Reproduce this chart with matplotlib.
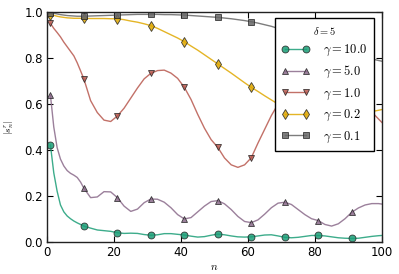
import matplotlib
matplotlib.use("Agg")
import matplotlib.pyplot as plt

plt.rcParams['mathtext.fontset'] = 'cm'

n = [1, 2, 3, 4, 5, 6, 7, 8, 9, 10, 11, 13, 15, 17, 19, 21, 23, 25, 27, 29, 31, 33, 35, 37, 39,
     41, 43, 45, 47, 49, 51, 53, 55, 57, 59, 61, 63, 65, 67, 69, 71, 73, 75, 77, 79,
     81, 83, 85, 87, 89, 91, 93, 95, 97, 99, 100]

g10 = [0.421, 0.30, 0.22, 0.16, 0.13, 0.112, 0.10, 0.09, 0.082, 0.075, 0.068, 0.059, 0.051, 0.048,
       0.045, 0.039, 0.036, 0.037, 0.036, 0.031, 0.028, 0.030, 0.035, 0.035, 0.032, 0.029, 0.024,
       0.020, 0.022, 0.028, 0.033, 0.030, 0.025, 0.021, 0.020, 0.021, 0.025, 0.029, 0.030, 0.025,
       0.019, 0.017, 0.019, 0.023, 0.027, 0.027, 0.025, 0.021, 0.017, 0.015, 0.014, 0.015, 0.019,
       0.023, 0.026, 0.027]

g5 = [0.639, 0.50, 0.41, 0.36, 0.33, 0.31, 0.298, 0.29, 0.28, 0.26, 0.233, 0.192, 0.195, 0.218,
      0.217, 0.192, 0.155, 0.132, 0.142, 0.17, 0.186, 0.185, 0.172, 0.148, 0.118, 0.099, 0.105,
      0.13, 0.155, 0.175, 0.179, 0.165, 0.14, 0.11, 0.088, 0.083, 0.095, 0.12, 0.148, 0.168, 0.172,
      0.162, 0.14, 0.118, 0.10, 0.092, 0.075, 0.068, 0.078, 0.10, 0.128, 0.147, 0.16, 0.166, 0.166,
      0.164]

g1 = [0.952, 0.93, 0.912, 0.893, 0.87, 0.85, 0.83, 0.81, 0.78, 0.745, 0.709, 0.615, 0.563, 0.53,
      0.524, 0.548, 0.582, 0.626, 0.67, 0.71, 0.734, 0.746, 0.748, 0.735, 0.712, 0.673, 0.62, 0.555,
      0.495, 0.445, 0.411, 0.365, 0.335, 0.324, 0.335, 0.366, 0.43, 0.49, 0.55, 0.60, 0.64, 0.675,
      0.70, 0.715, 0.72, 0.715, 0.705, 0.69, 0.67, 0.65, 0.63, 0.61, 0.59, 0.565, 0.535, 0.52]

g02 = [0.99, 0.987, 0.983, 0.98, 0.978, 0.976, 0.975, 0.974, 0.974, 0.974, 0.974, 0.973, 0.973,
       0.973, 0.972, 0.972, 0.968, 0.962, 0.957, 0.95, 0.942, 0.93, 0.916, 0.902, 0.888, 0.872,
       0.853, 0.835, 0.815, 0.795, 0.775, 0.755, 0.735, 0.714, 0.693, 0.673, 0.655, 0.636, 0.618,
       0.60, 0.588, 0.578, 0.57, 0.563, 0.558, 0.555, 0.553, 0.552, 0.552, 0.553, 0.555, 0.558,
       0.562, 0.567, 0.573, 0.576]

g01 = [0.999, 0.996, 0.993, 0.99, 0.988, 0.986, 0.985, 0.984, 0.983, 0.983, 0.983, 0.984, 0.985,
       0.986, 0.987, 0.988, 0.989, 0.99, 0.991, 0.991, 0.991, 0.991, 0.99, 0.99, 0.989, 0.988,
       0.986, 0.984, 0.982, 0.98, 0.978, 0.975, 0.972, 0.968, 0.964, 0.959, 0.953, 0.946, 0.939,
       0.93, 0.92, 0.91, 0.90, 0.89, 0.878, 0.866, 0.855, 0.845, 0.835, 0.826, 0.818, 0.81, 0.803,
       0.797, 0.79, 0.787]

marker_n = [1, 11, 21, 31, 41, 51, 61, 71, 81, 91]
labels = [r'$\gamma=10.0$', r'$\gamma=5.0$', r'$\gamma=1.0$', r'$\gamma=0.2$', r'$\gamma=0.1$']
title = r'$\delta=5$'
xticks = [0, 20, 40, 60, 80, 100]
yticks = [0.0, 0.2, 0.4, 0.6, 0.8, 1.0]

series = [g10, g5, g1, g02, g01]
colors = ['#1b9e77', '#8a6a8a', '#b8584e', '#e0a800', '#666666']
markers = ['o', '^', 'v', 'd', 's']

fig = plt.figure(figsize=(3.99, 2.74), dpi=100)
ax = fig.add_axes([0.118, 0.118, 0.839, 0.837])

mk_idx = [n.index(m) for m in marker_n]
for y, c, m, lab in zip(series, colors, markers, labels):
    ax.plot(n, y, color=c, lw=1.0, alpha=0.85, marker=m, markevery=mk_idx,
            markersize=5, markerfacecolor=c, markeredgecolor='#222222',
            markeredgewidth=0.6, label=lab)

ax.set_xlim(0, 100)
ax.set_ylim(0, 1.0)
ax.set_xticks(xticks)
ax.set_yticks(yticks)
ax.set_yticklabels([f'{v:.1f}' for v in yticks])
ax.tick_params(direction='in', top=True, right=True, length=4, width=0.8,
               labelsize=8.5, pad=3, colors='black')
for s in ax.spines.values():
    s.set_linewidth(1.0)
    s.set_color('#222222')

ax.set_xlabel(r'$n$', fontsize=8, labelpad=2)
ax.set_ylabel(r'$|s_n^r|$', fontsize=7, labelpad=6)

leg = ax.legend(title=title, loc='upper right', bbox_to_anchor=(0.976, 0.974),
                fontsize=9, title_fontsize=7.5,
                numpoints=2, handlelength=2.28, handletextpad=1.05, labelspacing=0.5,
                fancybox=False, framealpha=1.0, edgecolor='black', borderpad=0.5,
                borderaxespad=0.0)
leg.get_frame().set_linewidth(1.0)

fig.savefig('out.png', dpi=100)
